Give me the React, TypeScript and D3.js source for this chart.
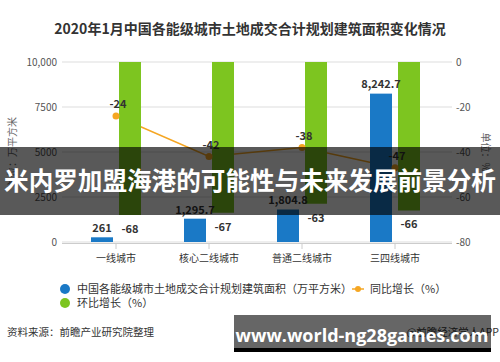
import React from "react";
import * as d3 from "d3";

const categories = ["一线城市", "核心二线城市", "普通二线城市", "三四线城市"];
const areaValues = [261, 1295.7, 1804.8, 8242.7];
const areaLabels = ["261", "1,295.7", "1,804.8", "8,242.7"];
const yoyValues = [-24, -42, -38, -47];
const momValues = [-68, -67, -63, -66];
const leftTicks = [0, 2500, 5000, 7500, 10000];
const leftTickLabels = ["0", "2500", "5000", "7500", "10,000"];
const rightTicks = [0, -20, -40, -60, -80];

const W = 500;
const H = 362;
const FONT = "'Noto Sans CJK SC', 'Noto Sans', sans-serif";
const BLUE = "#1a79c6";
const GREEN = "#7dc520";
const ORANGE = "#f5a623";

export default function App() {
  const x = d3.scaleBand<string>().domain(categories).range([69.5, 441.5]).padding(0);
  const yL = d3.scaleLinear().domain([0, 10000]).range([242, 62]);
  const yR = d3.scaleLinear().domain([-80, 0]).range([242, 62]);
  const cx = (c: string) => (x(c) as number) + x.bandwidth() / 2;
  const barW = 22;
  const off = 14;

  const line = d3
    .line<number>()
    .x((_, i) => cx(categories[i]))
    .y((d) => yR(d));

  return (
    <svg width={W} height={H} style={{ position: "absolute", left: 0, top: 0, background: "#fff" }} fontFamily={FONT}>
      <rect x={0} y={0} width={W} height={H} fill="#fff" />
      <text x={250} y={34} textAnchor="middle" fontSize={14} fontWeight="bold" fill="#333">
        2020年1月中国各能级城市土地成交合计规划建筑面积变化情况
      </text>

      {leftTicks.map((t, i) => (
        <g key={"g" + t}>
          <line x1={62} x2={452} y1={yL(t)} y2={yL(t)} stroke="#e8e8e8" strokeWidth={1.5} />
          <text x={57} y={yL(t)} dy="0.35em" textAnchor="end" fontSize={10} fill="#555">
            {leftTickLabels[i]}
          </text>
        </g>
      ))}
      {rightTicks.map((t) => (
        <text key={"r" + t} x={456} y={yR(t)} dy="0.35em" textAnchor="start" fontSize={10} fill="#555">
          {t}
        </text>
      ))}
      <text transform={`translate(16,152) rotate(-90)`} textAnchor="middle" fontSize={10} fill="#666">
        单位：万平方米
      </text>
      <text transform={`translate(482,152) rotate(90)`} textAnchor="middle" fontSize={10} fill="#666">
        单位：%
      </text>

      <line x1={62} x2={452} y1={243.5} y2={243.5} stroke="#ccc" strokeWidth={1} />
      {categories.map((c) => (
        <g key={"x" + c}>
          <line x1={cx(c)} x2={cx(c)} y1={243.5} y2={249} stroke="#ccc" />
          <text x={cx(c)} y={258} dy="0.35em" textAnchor="middle" fontSize={10} fill="#333">
            {c}
          </text>
        </g>
      ))}

      <path d={line(yoyValues) || ""} fill="none" stroke={ORANGE} strokeWidth={1.5} />

      {categories.map((c, i) => (
        <g key={"b" + c}>
          <rect
            x={cx(c) - off - barW / 2}
            y={yL(areaValues[i])}
            width={barW}
            height={yL(0) - yL(areaValues[i])}
            fill={BLUE}
          />
          <rect
            x={cx(c) + off - barW / 2}
            y={yR(0)}
            width={barW}
            height={yR(momValues[i]) - yR(0)}
            fill={GREEN}
          />
        </g>
      ))}

      {categories.map((c, i) => (
        <circle key={"d" + c} cx={cx(c)} cy={yR(yoyValues[i])} r={3.5} fill={ORANGE} />
      ))}

      {categories.map((c, i) => (
        <g key={"l" + c} fontSize={11} fontWeight="bold" fill="#333">
          <text x={cx(c) - off} y={yL(areaValues[i]) - 9} dy="0.35em" textAnchor="middle">
            {areaLabels[i]}
          </text>
          <text x={cx(c) + off} y={yR(momValues[i]) + 14} dy="0.35em" textAnchor="middle">
            {momValues[i]}
          </text>
          <text x={cx(c) + 2} y={yR(yoyValues[i]) - 11.5} dy="0.35em" textAnchor="middle">
            {yoyValues[i]}
          </text>
        </g>
      ))}

      <g fontSize={11} fill="#333">
        <circle cx={65} cy={289} r={5} fill={BLUE} />
        <text x={77} y={289} dy="0.35em">中国各能级城市土地成交合计规划建筑面积（万平方米）</text>
        <line x1={352} x2={364} y1={289} y2={289} stroke={ORANGE} strokeWidth={1.5} />
        <circle cx={358} cy={289} r={3} fill={ORANGE} />
        <text x={370} y={289} dy="0.35em">同比增长（%）</text>
        <circle cx={65} cy={303} r={5} fill={GREEN} />
        <text x={77} y={303} dy="0.35em">环比增长（%）</text>
      </g>

      <text x={7} y={332} dy="0.35em" fontSize={10.5} fill="#333">
        资料来源：前瞻产业研究院整理
      </text>
      <text x={499} y={332} dy="0.35em" fontSize={10.5} fill="#333" textAnchor="end">
        @前瞻经济学人APP
      </text>

      <rect x={0} y={147} width={W} height={68} fill="rgba(0,0,0,0.65)" />
      <text x={250} y={181} dy="0.35em" textAnchor="middle" fontSize={24.6} fontWeight="bold" fill="#fff">
        米内罗加盟海港的可能性与未来发展前景分析
      </text>

      <rect x={234} y={315} width={257} height={33} fill="rgba(0,0,0,0.6)" />
      <rect x={234} y={348} width={257} height={4} fill="#000" />
      <text x={362} y={336} dy="0.35em" textAnchor="middle" fontSize={18} fontWeight="bold" fill="#fff" fontFamily="'Open Sans', 'DejaVu Sans', sans-serif">
        www.world-ng28games.com
      </text>
    </svg>
  );
}
